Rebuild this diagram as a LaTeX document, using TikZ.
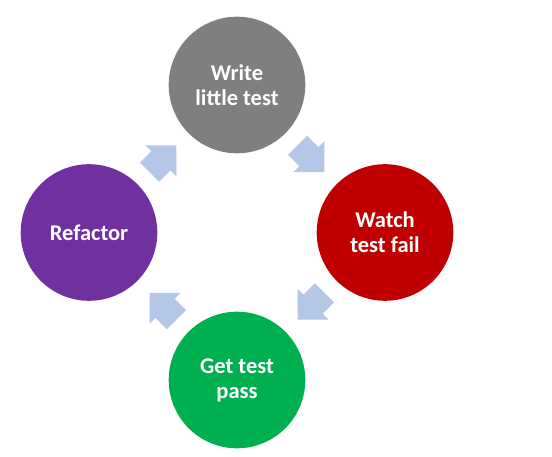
\documentclass[tikz,border=0pt]{standalone}
\usepackage{fontspec}
\setmainfont{Carlito}
\usetikzlibrary{calc}
\definecolor{wgray}{HTML}{7F7F7F}
\definecolor{wred}{HTML}{C00000}
\definecolor{wgreen}{HTML}{00B050}
\definecolor{wpurple}{HTML}{7030A0}
\definecolor{arrowblue}{HTML}{B4C7E7}
\begin{document}
\begin{tikzpicture}[x=1pt,y=-1pt,
  stage/.style={circle, minimum size=136.6pt, inner sep=0pt, text=white,
    font=\fontsize{22.5}{25}\selectfont\bfseries, align=center},
  blockarrow/.pic={\fill[arrowblue] (-19,-13.5) -- (-3,-13.5) -- (-3,-22) -- (19,0)
    -- (-3,22) -- (-3,13.5) -- (-19,13.5) -- cycle;}]
\fill[white] (0,0) rectangle (552,457);
\useasboundingbox (0,0) rectangle (552,457);
\node[stage, fill=wgray] (write) at (237,85) {Write\\little test};
\node[stage, fill=wred] (watch) at (385,232.5) {Watch\\test fail};
\node[stage, fill=wgreen] (pass) at (237,380) {Get test\\pass};
\node[stage, fill=wpurple] (refactor) at (89,232.5) {Refactor};
\pic[rotate=45] at ($(refactor)!0.5!(write)$) {blockarrow};
\pic[rotate=-45] at ($(write)!0.5!(watch)$) {blockarrow};
\pic[rotate=-135] at ($(watch)!0.5!(pass)$) {blockarrow};
\pic[rotate=135] at ($(pass)!0.5!(refactor)$) {blockarrow};
\end{tikzpicture}
\end{document}
